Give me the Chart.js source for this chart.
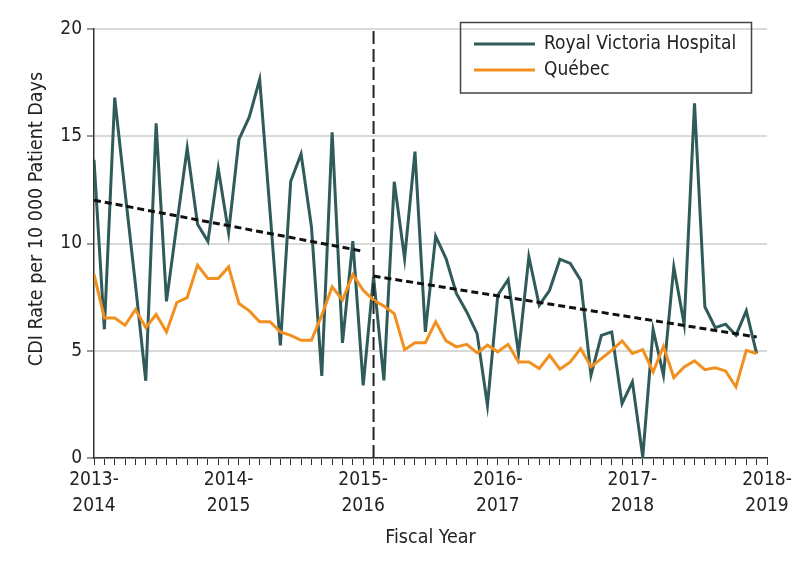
<!DOCTYPE html>
<html>
<head>
<meta charset="utf-8">
<script src="https://cdn.jsdelivr.net/npm/chart.js@4"></script>
<style>
  body { margin: 0; background: #fff; }
  #wrap { width: 794px; height: 567px; position: relative; }
</style>
</head>
<body>
<div id="wrap"><canvas id="cdiChart"></canvas></div>
<script>
// CDI rate per 10 000 patient days, 13 periods per fiscal year

const fiscalYears = [['2013-', '2014'], ['2014-', '2015'], ['2015-', '2016'], ['2016-', '2017'], ['2017-', '2018'], ['2018-', '2019']];
const periodsPerYear = 13;

const rvhRates = [13.9, 6.0, 16.8, 12.4, 8.1, 3.6, 15.6, 7.3, 10.9, 14.45,
    10.9, 10.1, 13.5, 10.5, 14.85, 15.9, 17.65, 11.5, 5.25, 12.9,
    14.17, 10.78, 3.83, 15.18, 5.37, 10.11, 3.39, 8.44, 3.62, 12.88,
    9.3, 14.28, 5.88, 10.34, 9.3, 7.67, 6.81, 5.8, 2.46, 7.59,
    8.32, 4.87, 9.38, 7.12, 7.82, 9.27, 9.07, 8.29, 3.86, 5.72,
    5.88, 2.53, 3.55, 0.05, 5.99, 3.86, 8.91, 6.24, 16.53, 7.05,
    6.08, 6.24, 5.72, 6.86, 4.87];

const quebecRates = [8.57, 6.53, 6.53, 6.19, 6.92, 6.08, 6.69, 5.88, 7.25, 7.48,
    8.99, 8.37, 8.37, 8.91, 7.2, 6.86, 6.35, 6.35, 5.88, 5.72,
    5.49, 5.49, 6.66, 7.98, 7.36, 8.55, 7.82, 7.36, 7.08, 6.73,
    5.05, 5.37, 5.37, 6.35, 5.46, 5.18, 5.3, 4.9, 5.26, 4.95,
    5.3, 4.48, 4.48, 4.17, 4.79, 4.14, 4.48, 5.1, 4.25, 4.63,
    5.02, 5.46, 4.87, 5.05, 4.01, 5.21, 3.75, 4.25, 4.53, 4.12,
    4.21, 4.06, 3.31, 5.02, 4.87];

// trend lines (start / end period, start / end rate)
const trendBeforePeriods = [0, 26];
const trendBeforeRates = [12.02, 9.64];
const trendAfterPeriods = [27, 64];
const trendAfterRates = [8.48, 5.64];

const interventionPeriod = 27;
const yTicks = [0, 5, 10, 15, 20];

const FONT = "'DejaVu Sans Condensed', 'Liberation Sans Narrow', sans-serif";
const TEXT = '#222';
const RVH_COLOR = '#2f5b59';
const QC_COLOR = '#f2901f';

// Helper: turn a list of rates into {x, y} points
function toPoints(values) {
    return values.map((v, i) => ({ x: i, y: v }));
}

function pairPoints(xs, ys) {
    return xs.map((x, i) => ({ x: x, y: ys[i] }));
}

// Boxed legend in the top right corner
const boxedLegend = {
    id: 'boxedLegend',
    afterDraw(chart) {
        const ctx = chart.ctx;
        const items = chart.data.datasets.filter(d => d.inLegend);
        ctx.save();
        ctx.strokeStyle = '#444';
        ctx.lineWidth = 1.5;
        ctx.strokeRect(460.5, 22.5, 291, 70.5);
        items.forEach((d, i) => {
            const y = 44 + i * 26;
            ctx.strokeStyle = d.borderColor;
            ctx.lineWidth = 3;
            ctx.beginPath();
            ctx.moveTo(474, y);
            ctx.lineTo(535, y);
            ctx.stroke();
            ctx.fillStyle = TEXT;
            ctx.font = '19px ' + FONT;
            ctx.textBaseline = 'middle';
            ctx.textAlign = 'left';
            ctx.fillText(d.label, 544, y);
        });
        ctx.restore();
    }
};

// Y axis title, drawn a bit above the axis center like the original
const yTitle = {
    id: 'yTitle',
    afterDraw(chart) {
        const ctx = chart.ctx;
        ctx.save();
        ctx.translate(37, 219);
        ctx.rotate(-Math.PI / 2);
        ctx.fillStyle = TEXT;
        ctx.font = '19.5px ' + FONT;
        ctx.textAlign = 'center';
        ctx.textBaseline = 'middle';
        ctx.fillText('CDI Rate per 10 000 Patient Days', 0, 0);
        ctx.restore();
    }
};

new Chart(document.getElementById('cdiChart'), {
    type: 'line',
    data: {
        datasets: [
            {
                label: 'Royal Victoria Hospital',
                inLegend: true,
                data: toPoints(rvhRates),
                borderColor: RVH_COLOR,
                borderWidth: 3,
                pointRadius: 0,
                tension: 0,
                order: 3
            },
            {
                label: 'Québec',
                inLegend: true,
                data: toPoints(quebecRates),
                borderColor: QC_COLOR,
                borderWidth: 3,
                pointRadius: 0,
                tension: 0,
                order: 2
            },
            {
                label: 'Trend before',
                data: pairPoints(trendBeforePeriods, trendBeforeRates),
                borderColor: '#111',
                borderWidth: 3,
                borderDash: [7, 4],
                pointRadius: 0,
                order: 1
            },
            {
                label: 'Trend after',
                data: pairPoints(trendAfterPeriods, trendAfterRates),
                borderColor: '#111',
                borderWidth: 3,
                borderDash: [7, 4],
                pointRadius: 0,
                order: 1
            },
            {
                label: 'Intervention',
                data: [{ x: interventionPeriod, y: yTicks[0] }, { x: interventionPeriod, y: yTicks[yTicks.length - 1] }],
                borderColor: '#222',
                borderWidth: 2,
                borderDash: [13, 5],
                pointRadius: 0,
                order: 0
            }
        ]
    },
    options: {
        responsive: true,
        maintainAspectRatio: false,
        animation: false,
        layout: {
            padding: { left: 0, right: 27, top: 29, bottom: 0 }
        },
        plugins: {
            legend: { display: false },
            tooltip: { enabled: false }
        },
        scales: {
            x: {
                type: 'linear',
                min: 0,
                max: periodsPerYear * (fiscalYears.length - 1),
                afterFit(scale) {
                    scale.height = 109;
                    scale.paddingLeft = 0;
                    scale.paddingRight = 0;
                },
                border: { color: '#333', width: 1.5 },
                grid: {
                    drawOnChartArea: false,
                    drawTicks: true,
                    tickLength: 7,
                    tickColor: '#333',
                    tickWidth: 1
                },
                ticks: {
                    stepSize: 1,
                    autoSkip: false,
                    maxTicksLimit: 200,
                    maxRotation: 0,
                    padding: 3,
                    color: TEXT,
                    font: { family: FONT, size: 19, lineHeight: 1.32 },
                    callback: function(value) {
                        return value % periodsPerYear === 0 ? fiscalYears[value / periodsPerYear] : '';
                    }
                },
                title: {
                    display: true,
                    text: 'Fiscal Year',
                    color: TEXT,
                    font: { family: FONT, size: 19.5 },
                    padding: { top: 0, bottom: 17 }
                }
            },
            y: {
                min: 0,
                max: 20,
                afterFit(scale) {
                    scale.width = 94;
                },
                border: { color: '#333', width: 1.5 },
                grid: {
                    color: '#d9d9d9',
                    lineWidth: 2,
                    tickLength: 7,
                    tickColor: '#333',
                    tickWidth: 1
                },
                ticks: {
                    stepSize: 5,
                    padding: 5,
                    color: TEXT,
                    font: { family: FONT, size: 19 }
                }
            }
        }
    },
    plugins: [boxedLegend, yTitle]
});
</script>
</body>
</html>
